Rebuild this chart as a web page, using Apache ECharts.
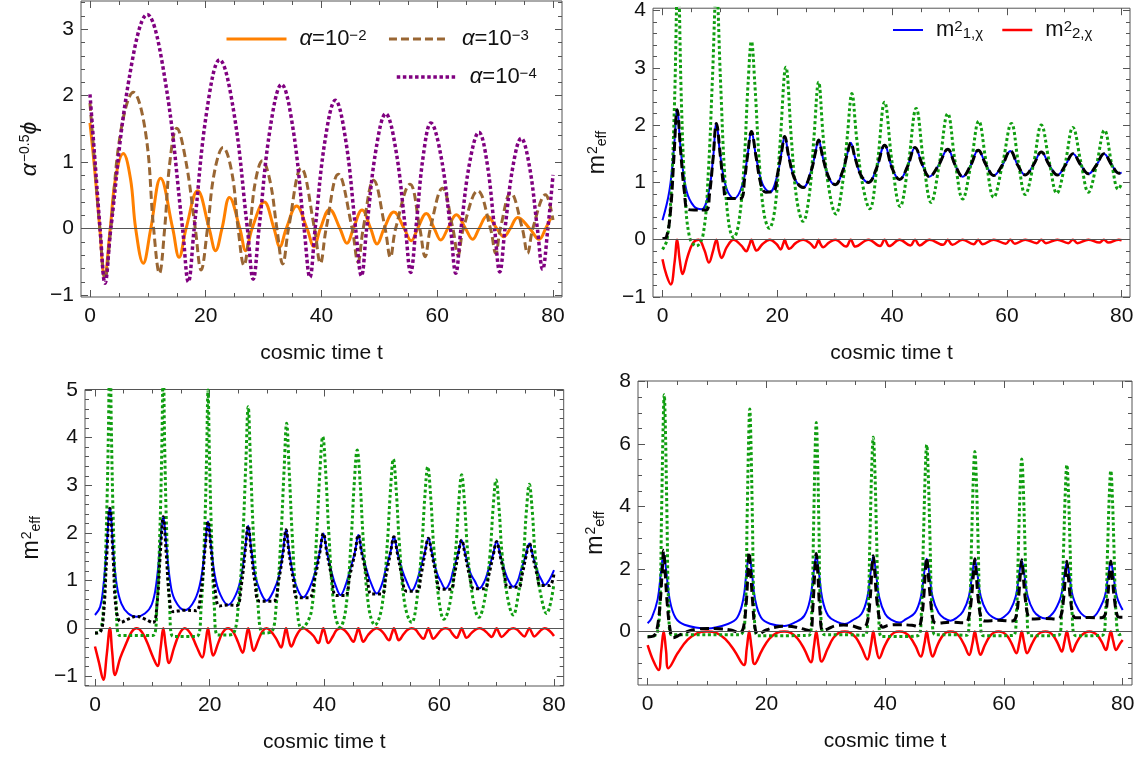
<!DOCTYPE html>
<html><head><meta charset="utf-8">
<script src="https://cdn.jsdelivr.net/npm/echarts@6.0.0/dist/echarts.min.js"></script>
<style>html,body{margin:0;padding:0;background:#fff}#c{width:1141px;height:757px}</style>
</head><body><div id="c"></div>
<script>
// ---------------- DATA ----------------
// Panel 1: alpha^-0.5 phi vs cosmic time t
const p1Orange = [[0,1.59],[0.8,0.9],[1.7,0],[2.5,-0.72],[3.5,0],[4.4,0.75],[5.75,1.13],[7.0,0.75],[7.9,0],[9.2,-0.52],[10.5,0],[12.2,0.76],[14.3,0],[15.4,-0.43],[16.6,0],[18.6,0.57],[20.6,0],[21.7,-0.33],[22.8,0],[24.1,0.47],[25.9,0],[26.9,-0.33],[28.0,0],[30.1,0.40],[31.8,0],[32.8,-0.27],[33.9,0],[35.7,0.34],[37.5,0],[38.7,-0.27],[39.8,0],[41.4,0.29],[43.2,0],[44.4,-0.22],[45.5,0],[47.0,0.28],[48.5,0],[49.6,-0.23],[50.8,0],[52.5,0.25],[54.3,0],[55.5,-0.18],[56.6,0],[58.1,0.23],[59.5,0],[60.6,-0.17],[61.8,0],[63.3,0.21],[64.9,0],[66.1,-0.16],[67.2,0],[68.6,0.19],[70.3,0],[71.5,-0.12],[72.6,0],[73.9,0.17],[76.0,0],[77.6,-0.16],[78.7,0],[79.6,0.16]];
const p1Brown = [[0,1.89],[0.8,1.0],[1.7,0],[2.6,-0.75],[3.6,0],[5.3,1.45],[7.5,2.05],[9.6,1.45],[11.0,0],[12.0,-0.67],[12.9,0],[13.8,1.0],[15.0,1.51],[16.5,1.05],[18.2,0],[19.2,-0.62],[20.3,0],[21.5,0.85],[23.0,1.22],[24.5,0.85],[25.6,0],[26.6,-0.55],[27.6,0],[28.6,0.72],[29.8,1.02],[31.1,0.72],[32.3,0],[33.3,-0.53],[34.3,0],[36.5,0.91],[38.8,0],[39.8,-0.52],[40.8,0],[42.9,0.82],[45.3,0],[46.3,-0.50],[47.2,0],[49.0,0.73],[51.0,0],[51.9,-0.43],[52.8,0],[55.3,0.67],[57.0,0],[57.9,-0.42],[58.8,0],[60.9,0.61],[62.7,0],[63.6,-0.40],[64.5,0],[67.0,0.57],[69.2,0],[70.1,-0.37],[70.9,0],[72.7,0.54],[74.7,0],[75.6,-0.37],[76.5,0],[78.7,0.51],[80,0.13]];
const p1Purple = [[0,2.02],[0.8,1.1],[1.75,0],[2.6,-0.82],[3.6,0],[6.75,2.25],[9.9,3.22],[12.95,2.25],[16.0,0],[17.0,-0.80],[18.0,0],[20.2,1.78],[22.4,2.54],[24.8,1.78],[27.2,0],[28.2,-0.76],[29.2,0],[31.15,1.52],[33.1,2.17],[35.05,1.52],[37.0,0],[38.0,-0.73],[38.9,0],[40.65,1.35],[42.4,1.93],[44.15,1.35],[45.9,0],[46.9,-0.71],[47.8,0],[49.45,1.21],[51.1,1.73],[52.8,1.21],[54.5,0],[55.4,-0.66],[56.3,0],[57.6,1.11],[58.9,1.59],[60.6,1.11],[62.3,0],[63.2,-0.67],[64.1,0],[65.65,1.02],[67.2,1.45],[68.55,1.02],[69.9,0],[70.8,-0.65],[71.7,0],[73.1,0.95],[74.5,1.36],[75.9,0.95],[77.3,0],[78.2,-0.61],[79.1,0],[80,0.81]];

// Panel 2: m_eff^2
const p2Blue = [[0,0.34],[1.2,0.85],[2.0,1.6],[2.56,2.27],[3.2,1.55],[4.2,0.85],[5.5,0.58],[6.8,0.53],[8.0,0.8],[8.8,1.4],[9.4,2.03],[10.1,1.45],[11.2,0.88],[12.5,0.72],[13.9,0.95],[14.8,1.45],[15.5,1.89],[16.3,1.45],[17.4,0.98],[18.7,0.83],[20.0,1.12],[20.7,1.5],[21.3,1.80],[22.0,1.45],[23.1,1.05],[24.5,0.91],[25.9,1.2],[26.6,1.5],[27.2,1.74],[27.9,1.45],[29.0,1.08],[30.1,0.96],[31.4,1.2],[32.2,1.5],[32.8,1.69],[33.5,1.45],[34.6,1.12],[35.9,1.00],[37.3,1.25],[38.7,1.65],[40.0,1.25],[41.3,1.05],[42.7,1.28],[44.0,1.61],[45.3,1.3],[46.5,1.10],[48.1,1.3],[49.7,1.58],[51.0,1.3],[52.3,1.10],[53.7,1.3],[55.0,1.56],[56.4,1.3],[57.7,1.12],[59.2,1.3],[60.6,1.55],[61.9,1.3],[63.2,1.13],[64.6,1.3],[66.0,1.53],[67.4,1.3],[68.8,1.13],[70.2,1.3],[71.5,1.50],[72.9,1.3],[74.2,1.15],[75.6,1.3],[76.9,1.50],[78.3,1.3],[79.5,1.16],[80,1.17]];
const p2BlackHead = [[0,0.02],[0.7,0.05],[1.4,0.5],[2.0,1.45],[2.56,2.27],[3.2,1.5],[3.8,0.85],[4.4,0.53],[5.5,0.52],[7.6,0.52],[8.2,0.8],[8.8,1.4],[9.4,2.03],[10.1,1.45],[10.7,0.9],[11.2,0.72],[13.6,0.72],[14.3,1.05],[14.8,1.45],[15.5,1.89],[16.3,1.45],[17.2,0.95],[18.0,0.83],[19.4,0.85]];
const p2Green = [[0,-0.17],[0.8,0.0],[1.5,0.8],[2.1,2.4],[2.7,4.7],[3.3,2.4],[3.9,0.9],[4.7,0.05],[5.9,-0.11],[7.1,0.1],[8.0,1.2],[8.7,2.8],[9.4,4.4],[10.1,2.8],[10.8,1.2],[11.6,0.25],[12.4,0.04],[13.3,0.3],[14.2,1.3],[14.9,2.7],[15.5,3.46],[16.1,2.7],[16.9,1.3],[17.7,0.45],[18.6,0.20],[19.6,0.55],[20.5,1.7],[21.5,3.01],[22.5,1.7],[23.4,0.7],[24.5,0.32],[25.6,0.8],[26.4,1.8],[27.2,2.75],[28.0,1.8],[28.9,0.95],[30.2,0.45],[31.4,1.0],[32.2,1.8],[33.0,2.55],[33.8,1.8],[34.8,1.0],[36.1,0.54],[37.4,1.3],[38.7,2.40],[40.0,1.35],[41.4,0.58],[42.8,1.3],[44.2,2.29],[45.5,1.35],[46.8,0.65],[48.2,1.3],[49.7,2.20],[51.0,1.35],[52.3,0.71],[53.7,1.3],[55.1,2.07],[56.4,1.35],[57.7,0.74],[59.2,1.3],[60.8,2.03],[62.0,1.35],[63.2,0.79],[64.6,1.3],[66.0,2.00],[67.4,1.35],[68.7,0.81],[70.1,1.3],[71.5,1.96],[72.9,1.35],[74.2,0.83],[75.6,1.3],[77.0,1.91],[78.3,1.3],[79.4,0.88],[80,0.98]];
const p2Red = [[0,-0.34],[0.7,-0.62],[1.45,-0.78],[2.1,-0.4],[2.56,0],[3.0,-0.35],[3.5,-0.60],[4.3,-0.32],[5.3,-0.06],[6.3,0],[7.3,-0.18],[8.1,-0.40],[8.8,-0.2],[9.4,0],[9.85,-0.2],[10.3,-0.32],[11.2,-0.13],[12.4,0],[13.7,-0.1],[14.6,-0.2],[15.1,-0.1],[15.5,0],[15.9,-0.1],[16.4,-0.19],[17.4,-0.08],[18.7,0],[19.9,-0.08],[20.6,-0.17],[21.0,-0.08],[21.3,0],[21.6,-0.08],[22.1,-0.16],[23.2,-0.06],[24.5,0],[25.8,-0.07],[26.5,-0.14],[26.9,-0.07],[27.2,0],[27.5,-0.07],[28.0,-0.13],[29.0,-0.05],[30.1,0],[32.0,-0.12],[32.8,0],[33.6,-0.12],[35.9,0],[37.9,-0.11],[38.7,0],[39.5,-0.11],[41.3,0],[43.2,-0.1],[44.0,0],[44.8,-0.1],[46.5,0],[48.9,-0.09],[49.7,0],[50.5,-0.09],[52.3,0],[54.2,-0.08],[55.0,0],[55.8,-0.08],[57.7,0],[59.8,-0.07],[60.6,0],[61.4,-0.07],[63.2,0],[65.2,-0.06],[66.0,0],[66.8,-0.06],[68.8,0],[70.7,-0.06],[71.5,0],[72.3,-0.06],[74.2,0],[76.1,-0.05],[76.9,0],[77.7,-0.05],[79.5,0],[80,-0.01]];

// Panel 3
const p3Blue = [[0,0.28],[0.9,0.45],[1.45,0.87],[2.0,1.65],[2.6,2.52],[3.2,1.6],[3.8,0.9],[4.6,0.52],[5.8,0.31],[7.25,0.245],[8.7,0.31],[9.9,0.5],[10.7,0.95],[11.4,1.8],[11.9,2.34],[12.4,1.8],[13.1,0.98],[13.9,0.6],[15.65,0.38],[17.4,0.6],[18.5,1.05],[19.2,1.75],[19.7,2.24],[20.2,1.75],[20.9,1.1],[21.8,0.72],[23.2,0.49],[24.6,0.72],[25.5,1.1],[26.2,1.7],[26.7,2.15],[27.2,1.7],[27.9,1.12],[28.8,0.78],[29.9,0.58],[31.1,0.78],[32.1,1.12],[32.8,1.65],[33.3,2.07],[33.8,1.65],[34.5,1.15],[35.3,0.82],[36.3,0.65],[37.3,0.82],[38.3,1.15],[39.2,1.62],[39.8,1.99],[40.4,1.62],[41.3,1.15],[42.0,0.88],[42.8,0.70],[43.6,0.88],[44.4,1.2],[45.3,1.6],[45.9,1.96],[46.5,1.6],[47.4,1.2],[48.2,0.92],[49.1,0.73],[50.0,0.92],[50.6,1.2],[51.5,1.6],[52.1,1.92],[52.7,1.6],[53.6,1.2],[54.4,0.96],[55.2,0.79],[56.0,0.96],[56.6,1.2],[57.5,1.6],[58.1,1.89],[58.7,1.6],[59.6,1.16],[60.3,0.98],[61.1,0.83],[61.9,0.98],[62.4,1.2],[63.3,1.58],[63.9,1.85],[64.5,1.58],[65.4,1.17],[66.2,0.99],[67.0,0.84],[67.9,0.99],[68.5,1.2],[69.4,1.56],[70.0,1.82],[70.6,1.56],[71.5,1.17],[72.1,1.0],[72.9,0.87],[73.7,1.0],[74.2,1.2],[75.1,1.54],[75.7,1.78],[76.3,1.54],[77.2,1.17],[77.8,1.02],[78.4,0.91],[79.2,1.02],[80,1.22]];
const p3Black = [[0,-0.1],[0.9,-0.08],[1.5,0.3],[2.0,1.4],[2.6,2.52],[3.2,1.4],[3.7,0.4],[4.6,0.13],[5.9,0.2],[7.25,0.25],[8.6,0.2],[10.1,0.12],[10.8,0.5],[11.4,1.6],[11.9,2.34],[12.4,1.6],[13.0,0.6],[13.6,0.35],[15.65,0.38],[17.6,0.37],[18.4,0.7],[19.2,1.7],[19.7,2.24],[20.2,1.7],[21.0,0.75],[21.7,0.47],[23.2,0.49],[24.7,0.48],[25.5,0.9],[26.2,1.65],[26.7,2.15],[27.2,1.65],[27.9,0.95],[28.7,0.57],[31.1,0.57],[32.0,1.0],[32.8,1.6],[33.3,2.07],[33.8,1.6],[34.6,1.0],[35.3,0.64],[37.3,0.64],[38.3,1.05],[39.2,1.6],[39.8,1.99],[40.4,1.6],[41.3,1.05],[42.0,0.69],[43.6,0.69],[44.4,1.1],[45.3,1.58],[45.9,1.96],[46.5,1.58],[47.4,1.1],[48.2,0.72],[50.0,0.72],[50.7,1.1],[51.5,1.58],[52.1,1.92],[52.7,1.58],[53.5,1.1],[54.3,0.78],[56.1,0.78],[56.8,1.1],[57.5,1.57],[58.1,1.89],[58.7,1.57],[59.5,1.1],[60.2,0.82],[62.0,0.82],[62.6,1.1],[63.3,1.55],[63.9,1.85],[64.5,1.55],[65.3,1.1],[66.1,0.83],[67.9,0.83],[68.6,1.1],[69.4,1.53],[70.0,1.82],[70.6,1.53],[71.4,1.1],[72.0,0.86],[73.8,0.86],[74.4,1.1],[75.1,1.5],[75.7,1.78],[76.3,1.5],[77.1,1.1],[77.6,0.9],[79.2,0.9],[80,1.15]];
const p3Green = [[0,-0.1],[0.9,-0.06],[1.5,0.5],[2.0,2.2],[2.35,4.2],[2.6,6.3],[2.85,4.2],[3.2,2.2],[3.7,0.5],[4.3,-0.15],[7.2,-0.15],[10.1,-0.15],[10.8,0.5],[11.3,2.0],[11.65,3.8],[11.9,5.6],[12.15,3.8],[12.5,2.0],[13.0,0.5],[13.6,-0.17],[15.65,-0.17],[17.7,-0.17],[18.5,0.45],[19.1,2.0],[19.45,3.6],[19.7,5.0],[19.95,3.6],[20.3,2.0],[20.8,0.45],[21.4,-0.14],[22.7,-0.14],[24.0,-0.12],[25.0,0.5],[25.8,2.0],[26.3,3.5],[26.7,4.65],[27.1,3.5],[27.6,2.0],[28.4,0.5],[29.3,-0.1],[30.7,-0.08],[31.6,0.5],[32.4,1.9],[32.95,3.3],[33.4,4.30],[33.85,3.3],[34.4,1.9],[35.2,0.45],[36.0,0.0],[37.7,0.35],[38.65,2.01],[39.2,3.3],[39.7,4.02],[40.2,3.3],[40.75,2.01],[41.7,0.4],[42.7,0.02],[43.7,0.4],[44.65,1.87],[45.2,3.07],[45.7,3.74],[46.2,3.07],[46.75,1.87],[47.7,0.45],[48.8,0.07],[50.0,0.45],[50.95,1.78],[51.5,2.9],[52.0,3.55],[52.5,2.9],[53.05,1.78],[54.0,0.5],[55.2,0.12],[56.0,0.5],[56.95,1.7],[57.5,2.78],[58.0,3.39],[58.5,2.78],[59.05,1.7],[60.0,0.55],[60.8,0.19],[61.9,0.55],[62.85,1.61],[63.4,2.64],[63.9,3.22],[64.4,2.64],[64.95,1.61],[65.9,0.6],[66.9,0.23],[67.9,0.6],[68.85,1.56],[69.4,2.55],[69.9,3.11],[70.4,2.55],[70.95,1.56],[71.9,0.65],[72.9,0.28],[73.7,0.65],[74.65,1.51],[75.2,2.48],[75.7,3.02],[76.2,2.48],[76.75,1.51],[77.7,0.7],[78.7,0.31],[80,0.94]];
const p3Red = [[0,-0.38],[0.7,-0.72],[1.45,-1.08],[2.05,-0.55],[2.6,0],[3.0,-0.5],[3.5,-0.98],[4.4,-0.62],[5.5,-0.3],[6.4,-0.07],[7.25,0],[8.2,-0.08],[9.1,-0.3],[10.1,-0.6],[10.9,-0.79],[11.45,-0.4],[11.9,0],[12.35,-0.38],[12.9,-0.73],[13.8,-0.4],[14.7,-0.12],[15.65,0],[16.7,-0.12],[17.7,-0.38],[18.7,-0.61],[19.25,-0.3],[19.7,0],[20.1,-0.3],[20.6,-0.57],[21.5,-0.3],[22.3,-0.08],[23.2,0],[24.1,-0.08],[24.9,-0.28],[25.75,-0.51],[26.25,-0.25],[26.7,0],[27.15,-0.24],[27.65,-0.47],[28.5,-0.24],[29.2,-0.06],[29.9,0],[30.7,-0.07],[31.6,-0.22],[32.45,-0.40],[32.9,-0.2],[33.3,0],[33.7,-0.2],[34.2,-0.38],[35.0,-0.18],[35.7,-0.04],[36.3,0],[37.0,-0.04],[38.1,-0.16],[38.95,-0.31],[39.4,-0.15],[39.8,0],[40.2,-0.15],[40.65,-0.31],[41.5,-0.16],[42.1,-0.04],[42.8,0],[43.5,-0.04],[44.2,-0.14],[45.05,-0.28],[45.5,-0.14],[45.9,0],[46.3,-0.14],[46.75,-0.28],[47.6,-0.14],[48.4,-0.04],[49.1,0],[49.8,-0.04],[50.4,-0.12],[51.25,-0.25],[51.7,-0.12],[52.1,0],[52.5,-0.12],[52.95,-0.25],[53.8,-0.12],[54.5,-0.03],[55.2,0],[55.9,-0.03],[56.4,-0.11],[57.25,-0.22],[57.7,-0.11],[58.1,0],[58.5,-0.11],[58.95,-0.22],[59.8,-0.11],[60.4,-0.03],[61.1,0],[61.8,-0.03],[62.2,-0.1],[63.05,-0.2],[63.5,-0.1],[63.9,0],[64.3,-0.1],[64.75,-0.2],[65.6,-0.1],[66.3,-0.03],[67.0,0],[67.7,-0.03],[68.3,-0.09],[69.15,-0.18],[69.6,-0.09],[70.0,0],[70.4,-0.09],[70.85,-0.18],[71.7,-0.09],[72.2,-0.03],[72.9,0],[73.6,-0.03],[74.0,-0.08],[74.85,-0.17],[75.3,-0.08],[75.7,0],[76.1,-0.08],[76.55,-0.17],[77.4,-0.08],[77.8,-0.03],[78.4,0],[79.2,-0.05],[80,-0.16]];

// Panel 4
const p4Blue = [[0,0.27],[0.7,0.44],[1.7,1.04],[2.25,1.92],[2.7,2.5],[3.15,1.92],[3.7,1.04],[4.7,0.44],[6.2,0.22],[10.0,0.1],[13.6,0.25],[15.1,0.45],[16.1,1.03],[16.65,1.9],[17.1,2.45],[17.55,1.9],[18.1,1.03],[19.1,0.45],[20.6,0.25],[23.0,0.18],[24.9,0.3],[26.4,0.51],[27.4,1.07],[27.95,1.89],[28.4,2.42],[28.85,1.89],[29.4,1.07],[30.4,0.51],[31.9,0.31],[33.2,0.24],[34.5,0.36],[36.0,0.56],[37.0,1.1],[37.55,1.89],[38.0,2.40],[38.45,1.89],[39.0,1.1],[40.0,0.56],[41.0,0.38],[42.4,0.29],[43.5,0.4],[45.0,0.6],[46.0,1.1],[46.55,1.85],[47.0,2.33],[47.45,1.85],[48.0,1.1],[49.0,0.6],[50.0,0.42],[51.0,0.35],[52.1,0.45],[53.1,0.64],[54.1,1.12],[54.65,1.83],[55.1,2.29],[55.55,1.83],[56.1,1.12],[57.1,0.64],[58.1,0.46],[59.1,0.39],[60.0,0.47],[61.0,0.66],[62.0,1.13],[62.55,1.81],[63.0,2.26],[63.45,1.81],[64.0,1.13],[65.0,0.66],[66.0,0.48],[67.0,0.42],[67.8,0.5],[68.6,0.68],[69.6,1.12],[70.15,1.78],[70.6,2.21],[71.05,1.78],[71.6,1.12],[72.6,0.68],[73.5,0.5],[74.4,0.44],[75.3,0.5],[76.0,0.69],[77.0,1.13],[77.55,1.79],[78.0,2.21],[78.45,1.79],[79.0,1.13],[80,0.69]];
const p4Black = [[0,-0.17],[1.0,-0.14],[1.6,0.1],[2.1,0.9],[2.45,1.9],[2.7,2.6],[2.95,1.9],[3.3,0.9],[3.8,0.05],[4.3,-0.2],[5.5,-0.1],[7.0,0.02],[8.5,0.08],[10.0,0.1],[12.0,0.09],[14.0,0.05],[15.5,-0.03],[16.1,0.1],[16.6,0.9],[16.9,1.9],[17.1,2.55],[17.35,1.9],[17.7,0.9],[18.1,0.1],[18.6,-0.08],[20.0,0.05],[21.5,0.14],[23.0,0.17],[25.0,0.14],[26.6,0.06],[27.4,0.02],[27.8,0.7],[28.15,1.9],[28.4,2.5],[28.65,1.9],[29.0,0.7],[29.5,0.03],[30.3,0.08],[31.5,0.18],[33.0,0.21],[34.5,0.18],[36.0,0.1],[36.9,0.25],[37.45,1.0],[37.75,1.9],[38.0,2.43],[38.25,1.9],[38.6,1.0],[39.2,0.25],[39.6,0.14],[40.5,0.2],[42.4,0.22],[44.5,0.2],[45.6,0.16],[46.1,0.4],[46.5,1.1],[46.75,1.85],[47.0,2.37],[47.25,1.85],[47.6,1.1],[48.1,0.35],[48.6,0.27],[51.0,0.3],[53.4,0.28],[54.0,0.4],[54.5,1.0],[54.85,1.8],[55.1,2.33],[55.35,1.8],[55.7,1.0],[56.2,0.42],[56.8,0.34],[59.1,0.36],[61.4,0.34],[62.0,0.45],[62.45,1.05],[62.75,1.8],[63.0,2.3],[63.25,1.8],[63.6,1.05],[64.1,0.48],[64.7,0.4],[67.0,0.42],[69.0,0.4],[69.6,0.5],[70.05,1.05],[70.35,1.75],[70.6,2.25],[70.85,1.75],[71.2,1.05],[71.7,0.5],[72.3,0.44],[74.4,0.45],[76.4,0.44],[77.0,0.52],[77.45,1.05],[77.75,1.75],[78.0,2.25],[78.25,1.75],[78.6,1.05],[79.1,0.5],[79.5,0.46],[80,0.46]];
const p4Green = [[0,-0.16],[1.0,-0.14],[1.6,-0.05],[2.05,0.76],[2.35,3.79],[2.6,6.44],[2.8,7.58],[3.0,6.44],[3.25,3.79],[3.55,0.76],[4.0,-0.1],[10.0,-0.1],[15.5,-0.1],[16.45,0.71],[16.75,3.56],[17.0,6.05],[17.2,7.12],[17.4,6.05],[17.65,3.56],[17.95,0.71],[18.5,-0.13],[23.0,-0.13],[27.2,-0.12],[27.65,0.67],[27.95,3.35],[28.2,5.69],[28.4,6.69],[28.6,5.69],[28.85,3.35],[29.15,0.67],[29.8,-0.1],[33.0,-0.1],[36.6,-0.12],[37.1,0.62],[37.45,3.11],[37.75,5.29],[38.0,6.22],[38.25,5.29],[38.55,3.11],[38.9,0.62],[39.4,-0.16],[42.4,-0.16],[45.6,-0.12],[46.1,0.6],[46.45,2.99],[46.75,5.08],[47.0,5.98],[47.25,5.08],[47.55,2.99],[47.9,0.6],[48.4,-0.1],[51.0,-0.1],[53.7,-0.12],[54.2,0.58],[54.55,2.88],[54.85,4.9],[55.1,5.76],[55.35,4.9],[55.65,2.88],[56.0,0.58],[56.5,-0.13],[59.1,-0.13],[61.6,-0.12],[62.1,0.55],[62.45,2.76],[62.75,4.69],[63.0,5.52],[63.25,4.69],[63.55,2.76],[63.9,0.55],[64.4,-0.13],[67.0,-0.13],[69.2,-0.12],[69.7,0.53],[70.05,2.67],[70.35,4.54],[70.6,5.34],[70.85,4.54],[71.15,2.67],[71.5,0.53],[72.1,-0.13],[74.4,-0.13],[76.6,-0.12],[77.1,0.52],[77.45,2.58],[77.75,4.38],[78.0,5.15],[78.25,4.38],[78.55,2.58],[78.9,0.52],[79.4,-0.1],[80,-0.06]];
const p4Red = [[0,-0.43],[1.0,-0.95],[1.85,-1.23],[2.3,-0.6],[2.7,0],[3.1,-0.6],[3.5,-1.17],[5.1,-0.68],[6.75,-0.26],[8.4,-0.05],[10.0,0],[11.55,-0.04],[13.1,-0.24],[14.65,-0.62],[16.2,-1.07],[16.7,-0.53],[17.1,0],[17.5,-0.52],[18.0,-1.04],[19.25,-0.6],[20.5,-0.23],[21.75,-0.04],[23.0,0],[24.1,-0.04],[25.25,-0.22],[26.4,-0.57],[27.5,-0.98],[28.0,-0.49],[28.4,0],[28.8,-0.48],[29.3,-0.96],[30.3,-0.56],[31.25,-0.21],[32.2,-0.04],[33.2,0],[34.15,-0.04],[35.1,-0.2],[36.05,-0.52],[37.0,-0.89],[37.6,-0.45],[38.0,0],[38.4,-0.43],[39.0,-0.85],[39.85,-0.49],[40.7,-0.19],[41.55,-0.03],[42.4,0],[43.3,-0.03],[44.2,-0.18],[45.1,-0.46],[46.0,-0.8],[46.6,-0.4],[47.0,0],[47.4,-0.4],[48.0,-0.8],[48.75,-0.46],[49.5,-0.18],[50.25,-0.03],[51.0,0],[51.8,-0.03],[52.55,-0.17],[53.35,-0.44],[54.15,-0.75],[54.7,-0.38],[55.1,0],[55.5,-0.37],[56.05,-0.74],[56.8,-0.43],[57.6,-0.16],[58.35,-0.03],[59.1,0],[59.85,-0.03],[60.6,-0.15],[61.35,-0.4],[62.1,-0.69],[62.6,-0.35],[63.0,0],[63.4,-0.35],[63.9,-0.69],[64.7,-0.4],[65.45,-0.15],[66.2,-0.03],[67.0,0],[67.7,-0.03],[68.35,-0.14],[69.05,-0.37],[69.75,-0.64],[70.2,-0.32],[70.6,0],[71.0,-0.32],[71.5,-0.64],[72.2,-0.37],[72.95,-0.14],[73.7,-0.03],[74.4,0],[75.1,-0.03],[75.8,-0.13],[76.5,-0.34],[77.2,-0.59],[77.6,-0.3],[78.0,0],[78.4,-0.3],[78.9,-0.59],[79.5,-0.4],[80,-0.27]];

// tick labels
const xMajor = [0, 20, 40, 60, 80];
const y1Major = [-1, 0, 1, 2, 3];
const y2Major = [-1, 0, 1, 2, 3, 4];
const y3Major = [-1, 0, 1, 2, 3, 4, 5];
const y4Major = [0, 2, 4, 6, 8];

// ---------------- CHART ----------------
const FONT = '"Liberation Sans", Arial, sans-serif';
const TICK = '#555';
function steps(a, b, st, skip) {
  const out = [];
  const n = Math.round((b - a) / st);
  for (let i = 0; i <= n; i++) {
    const v = Math.round((a + i * st) * 1000) / 1000;
    if (!skip.some(s => Math.abs(s - v) < 1e-6)) out.push(v);
  }
  return out;
}
const xMinor = steps(0, 80, 5, xMajor);
const minusFmt = v => String(v).replace('-', '\u2212');

function xAxes(gi, min, max) {
  const base = {type: 'value', gridIndex: gi, min, max, splitLine: {show: false}, axisLine: {show: false, onZero: false}};
  const tk = (vals, len) => ({show: true, inside: true, length: len, customValues: vals, lineStyle: {color: TICK, width: 1}});
  return [
    Object.assign({}, base, {position: 'bottom', axisTick: tk(xMajor, 7),
      axisLabel: {show: true, customValues: xMajor, fontSize: 21, color: '#111', fontFamily: FONT, margin: 9},
      name: 'cosmic time t', nameLocation: 'middle', nameGap: 46,
      nameTextStyle: {fontSize: 21, color: '#111', fontFamily: FONT}}),
    Object.assign({}, base, {position: 'bottom', axisTick: tk(xMinor, 4), axisLabel: {show: false}}),
    Object.assign({}, base, {position: 'top', axisTick: tk(xMajor, 7), axisLabel: {show: false}}),
    Object.assign({}, base, {position: 'top', axisTick: tk(xMinor, 4), axisLabel: {show: false}})
  ];
}
function yAxes(gi, min, max, major, minor, name, gap) {
  const base = {type: 'value', gridIndex: gi, min, max, splitLine: {show: false}, axisLine: {show: false, onZero: false}};
  const tk = (vals, len) => ({show: true, inside: true, length: len, customValues: vals, lineStyle: {color: TICK, width: 1}});
  const rich = {
    i: {fontSize: 23, fontStyle: 'italic', color: '#111', fontFamily: FONT},
    m: {fontSize: 23, color: '#111', fontFamily: FONT},
    s: {fontSize: 14, color: '#111', fontFamily: FONT, verticalAlign: 'top', padding: [0, 0, 0, 1]},
    e: {fontSize: 14, color: '#111', fontFamily: FONT, verticalAlign: 'bottom'}
  };
  return [
    Object.assign({}, base, {position: 'left', axisTick: tk(major, 7),
      axisLabel: {show: true, customValues: major, fontSize: 21, color: '#111', fontFamily: FONT, margin: 7, formatter: minusFmt},
      name: name, nameLocation: 'middle', nameGap: gap, nameRotate: 90,
      nameTextStyle: {rich: rich}}),
    Object.assign({}, base, {position: 'left', axisTick: tk(minor, 4), axisLabel: {show: false}}),
    Object.assign({}, base, {position: 'right', axisTick: tk(major, 7), axisLabel: {show: false}}),
    Object.assign({}, base, {position: 'right', axisTick: tk(minor, 4), axisLabel: {show: false}})
  ];
}

const grids = [
  {left: 81, top: 1, width: 481, height: 296},
  {left: 653, top: 1, width: 477, height: 296},
  {left: 85, top: 389.5, width: 478.7, height: 296.5},
  {left: 638, top: 381, width: 494, height: 304}
].map(g => Object.assign(g, {show: true, borderColor: '#555', borderWidth: 1, backgroundColor: 'transparent'}));

const mName = '{m|m}{s|2}{e|eff}';
const xAxisList = [].concat(
  xAxes(0, -1.55, 81.55), xAxes(1, -1.65, 81.45), xAxes(2, -1.74, 81.69), xAxes(3, -1.62, 81.57));
const yAxisList = [].concat(
  yAxes(0, -1.027, 3.424, y1Major, steps(-1, 3.4, 0.2, y1Major), '{i|α}{s|−0.5}{i|ϕ}', 40),
  yAxes(1, -1.0, 4.04, y2Major, steps(-1, 4, 0.2, y2Major), mName, 44),
  yAxes(2, -1.21, 5.01, y3Major, steps(-1.2, 5, 0.2, y3Major), mName, 42),
  yAxes(3, -1.71, 8.02, y4Major, steps(-1.5, 8, 0.5, y4Major), mName, 31));

const zeroLine = {silent: true, symbol: 'none', label: {show: false}, animation: false,
  lineStyle: {color: '#555', width: 1, type: 'solid'}, data: [{yAxis: 0}]};
function line(panel, name, data, color, width, dash, withZero) {
  const s = {type: 'line', name: name, data: data, xAxisIndex: panel * 4, yAxisIndex: panel * 4,
    symbol: 'none', showSymbol: false, smooth: 0.4, clip: true, silent: true, animation: false,
    lineStyle: {color: color, width: width, type: dash || 'solid'}, itemStyle: {color: color}};
  if (withZero) s.markLine = zeroLine;
  return s;
}
const ORANGE = '#ff8000', BROWN = '#996633', PURPLE = '#800080';
const BLUE = '#0000ff', RED = '#ff0000', GREEN = '#109e10', BLACK = '#000000';
const p2Black = p2BlackHead.concat(p2Blue.filter(p => p[0] >= 20));

const series = [
  line(0, 'a2', p1Orange, ORANGE, 3, 'solid', true),
  line(0, 'a3', p1Brown, BROWN, 3, [8, 4]),
  line(0, 'a4', p1Purple, PURPLE, 3.5, [3.5, 2.6]),
  line(1, 'm1', p2Blue, BLUE, 2, 'solid', true),
  line(1, 'm2', p2Red, RED, 2.5, 'solid'),
  line(1, 'g2', p2Green, GREEN, 3, [3, 2.6]),
  line(1, 'k2', p2Black, BLACK, 3, [9, 4]),
  line(2, 'm1', p3Blue, BLUE, 2, 'solid', true),
  line(2, 'm2', p3Red, RED, 2.5, 'solid'),
  line(2, 'g3', p3Green, GREEN, 3, [3, 2.6]),
  line(2, 'k3', p3Black, BLACK, 3, [3, 2.6]),
  line(3, 'm1', p4Blue, BLUE, 2, 'solid', true),
  line(3, 'm2', p4Red, RED, 2.5, 'solid'),
  line(3, 'g4', p4Green, GREEN, 3, [3, 2.6]),
  line(3, 'k4', p4Black, BLACK, 3, [9, 5])
];

const legRich = {
  i: {fontSize: 22, fontStyle: 'italic', color: '#111', fontFamily: FONT},
  n: {fontSize: 22, color: '#111', fontFamily: FONT},
  s: {fontSize: 15, color: '#111', fontFamily: FONT, verticalAlign: 'top'},
  m: {fontSize: 22, color: '#111', fontFamily: FONT},
  e: {fontSize: 15, color: '#111', fontFamily: FONT, verticalAlign: 'bottom'}
};
const alphaFmt = n => '{i|α}{n|=10}{s|−' + n.slice(1) + '}';
const mFmt = n => '{m|m}{s|2}{e|' + n.slice(1) + ',χ}';
const legBase = {orient: 'horizontal', padding: 0, selectedMode: false, itemHeight: 12,
  itemStyle: {opacity: 0, borderWidth: 0},
  lineStyle: {width: 'inherit', type: 'inherit'},
  textStyle: {rich: legRich, padding: [0, 0, 0, 8]}};

const option = {
  animation: false,
  backgroundColor: '#ffffff',
  grid: grids,
  xAxis: xAxisList,
  yAxis: yAxisList,
  legend: [
    Object.assign({}, legBase, {data: ['a2', 'a3'], left: 225, top: 28, itemWidth: 60, itemGap: 21, formatter: alphaFmt}),
    Object.assign({}, legBase, {data: ['a4'], left: 395, top: 66, itemWidth: 60, formatter: alphaFmt}),
    Object.assign({}, legBase, {data: ['m1', 'm2'], left: 892, top: 19, itemWidth: 30, itemGap: 18, formatter: mFmt})
  ],
  series: series
};
const chart = echarts.init(document.getElementById('c'));
chart.setOption(option);
</script></body></html>
